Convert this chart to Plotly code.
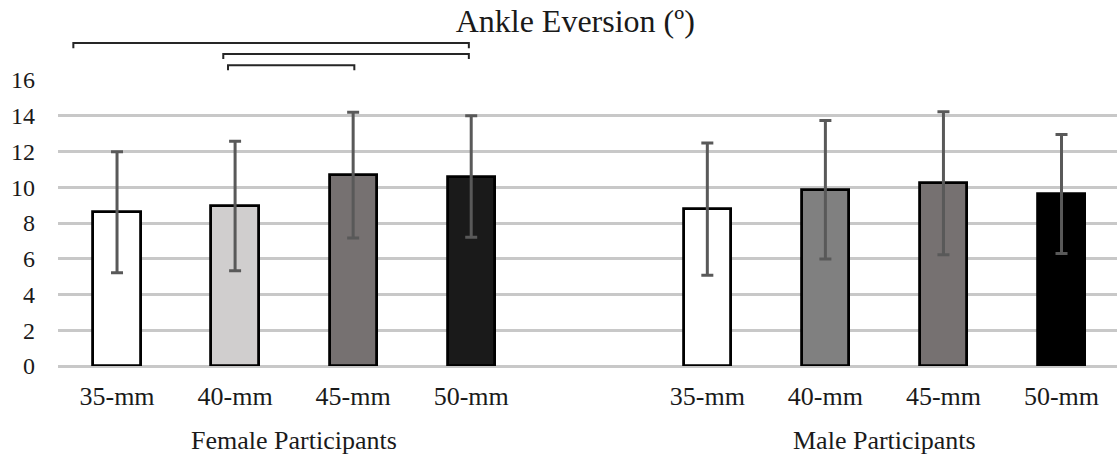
import plotly.graph_objects as go

# ---- data ----
categories = ["35-mm", "40-mm", "45-mm", "50-mm"]
groups = ["Female Participants", "Male Participants"]
female_mean = [8.6, 8.95, 10.68, 10.6]
female_sd = [3.38, 3.62, 3.52, 3.4]
male_mean = [8.78, 9.86, 10.22, 9.62]
male_sd = [3.7, 3.87, 4.0, 3.33]
female_colors = ["#ffffff", "#d0cece", "#767171", "#1a1a1a"]
male_colors = ["#ffffff", "#808080", "#767171", "#000000"]
# significant comparisons within female group (category index pairs)
sig_pairs = [(0, 3), (1, 3), (1, 2)]

FONT = "Liberation Serif"

female_x = list(range(len(categories)))
male_x = [i + len(categories) + 1 for i in range(len(categories))]

fig = go.Figure()
for xs, means, sds, cols in [(female_x, female_mean, female_sd, female_colors),
                             (male_x, male_mean, male_sd, male_colors)]:
    fig.add_trace(go.Bar(
        x=xs, y=means, width=0.4,
        marker=dict(color=cols, line=dict(color="#000000", width=2.8)),
        error_y=dict(type="data", array=sds, visible=True,
                     color="#595959", thickness=3, width=6),
        showlegend=False,
    ))

# group labels
for name, xs in zip(groups, [female_x, male_x]):
    fig.add_annotation(x=(xs[0] + xs[-1]) / 2, y=-0.262, xref="x", yref="paper",
                       yanchor="middle", text=name, showarrow=False,
                       font=dict(family=FONT, size=26, color="#1a1a1a"))

# significance brackets
level_y = [1.129, 1.091, 1.052]
left_off = [-0.37, -0.1, -0.06]
right_off = [-0.02, -0.02, 0.01]
tick = 0.018
for (a, b), yy, lo, ro in zip(sig_pairs, level_y, left_off, right_off):
    x0 = female_x[a] + lo
    x1 = female_x[b] + ro
    fig.add_shape(type="path", xref="x", yref="paper",
                  path=f"M {x0},{yy - tick} L {x0},{yy} L {x1},{yy} L {x1},{yy - tick}",
                  line=dict(color="#262626", width=2))

fig.update_layout(
    width=1117, height=464,
    margin=dict(l=58, r=0, t=80, b=98),
    paper_bgcolor="white", plot_bgcolor="white",
    title=dict(text="Ankle Eversion (º)", x=0.515, xanchor="center", y=0.955, yanchor="middle",
               font=dict(family=FONT, size=32, color="#1a1a1a")),
    bargap=0,
    xaxis=dict(range=[-0.5, 8.47], tickvals=female_x + male_x,
               ticktext=categories + categories, showgrid=False, zeroline=False,
               showline=False, ticks="", ticklabelstandoff=12,
               tickfont=dict(family=FONT, size=26, color="#1a1a1a")),
    yaxis=dict(range=[0, 16], dtick=2, tick0=0, showgrid=True, gridcolor="#c8c8c8",
               gridwidth=2.5, zeroline=True, zerolinecolor="#c8c8c8", zerolinewidth=2.5,
               showline=False, ticks="", ticklabelstandoff=22,
               tickfont=dict(family=FONT, size=24, color="#1a1a1a")),
)

fig.write_html("out.html")
